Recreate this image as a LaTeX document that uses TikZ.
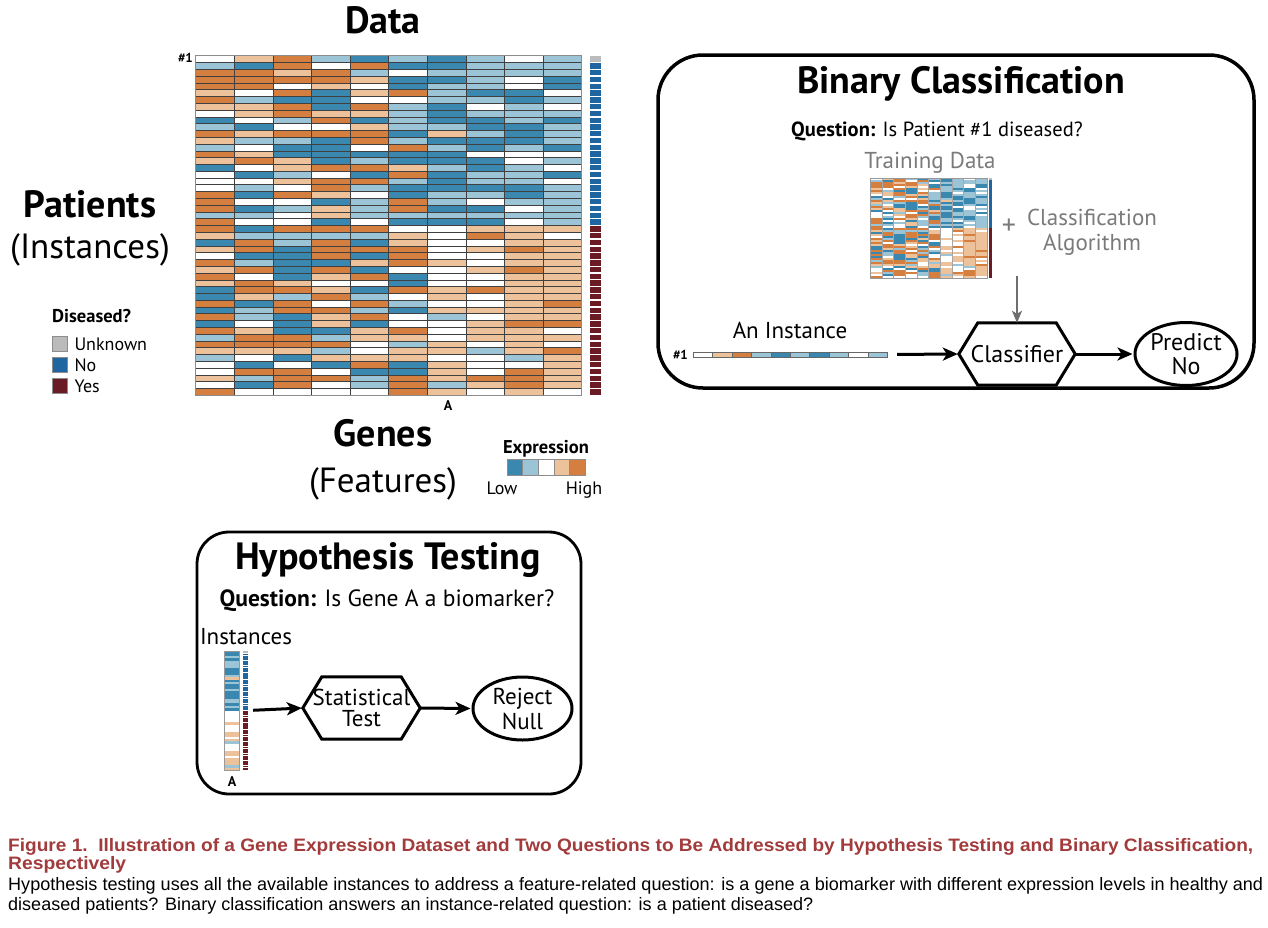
\documentclass[tikz,border=0pt]{standalone}
\usepackage{fontspec}
\setmainfont{PT Sans}
\newfontfamily\capfont{Liberation Sans}
\usepackage{graphicx}
\usetikzlibrary{arrows.meta, positioning, shapes.geometric, calc}

\definecolor{ex1}{HTML}{3A88B0}
\definecolor{ex2}{HTML}{9BC5D6}
\definecolor{ex3}{HTML}{FFFFFF}
\definecolor{ex4}{HTML}{EDC19A}
\definecolor{ex5}{HTML}{D47F40}
\definecolor{dsU}{HTML}{BBBBBB}
\definecolor{dsN}{HTML}{1F66A0}
\definecolor{dsY}{HTML}{6A1B24}
\definecolor{txtgray}{HTML}{7A7A7A}
\definecolor{capred}{HTML}{A23B3C}

% expression level per patient (row) and gene (column): 1 low ... 5 high
\newcommand{\heatdata}{%
{3,4,5,2,1,2,1,2,3,2},{2,1,5,3,5,1,1,2,2,2},{5,5,4,5,2,3,2,2,2,2},{5,5,5,5,4,1,1,2,3,1},
{5,5,3,4,3,1,2,2,3,1},{4,3,5,1,4,5,2,1,1,3},{5,2,1,1,3,3,2,2,1,2},{4,4,5,1,5,2,1,3,2,3},
{3,4,5,4,4,2,1,2,2,2},{1,3,2,5,1,2,1,1,2,1},{2,1,3,3,4,2,2,1,1,2},{5,4,5,5,5,1,4,2,1,2},
{4,2,2,1,5,2,1,1,1,2},{2,3,1,1,3,5,2,1,2,1},{5,4,1,1,1,1,1,3,3,3},{4,5,4,1,2,1,1,1,3,2},
{1,3,4,5,5,4,2,1,2,3},{3,1,2,3,1,5,1,2,2,1},{3,3,4,5,5,2,1,2,2,3},{3,2,3,5,2,1,1,1,1,2},
{5,1,5,4,3,1,2,2,1,2},{5,3,3,1,2,5,2,3,2,2},{5,1,2,4,2,5,1,1,3,2},{2,2,3,4,2,2,2,2,2,2},
{5,3,3,1,3,1,1,1,3,2},{5,1,5,5,5,3,3,4,4,4},{4,2,2,2,2,4,3,5,4,3},{1,5,2,5,1,4,3,3,4,4},
{4,5,1,5,5,5,3,4,5,4},{3,1,1,5,1,5,3,3,4,4},{5,2,1,1,4,5,4,3,4,4},{4,5,1,5,1,3,3,4,5,4},
{5,3,1,4,5,1,3,3,4,4},{4,5,4,3,3,1,3,3,4,4},{1,5,5,4,1,5,4,5,4,4},{1,4,2,5,2,3,4,3,4,4},
{5,1,5,3,5,2,3,3,4,5},{1,2,5,5,2,1,4,4,4,4},{5,2,1,4,5,3,2,3,4,4},{1,3,1,4,1,3,3,4,5,5},
{5,4,1,1,4,5,3,4,4,3},{2,5,5,2,4,4,3,4,4,4},{5,5,5,5,3,2,4,3,4,3},{4,4,4,2,3,4,4,2,4,5},
{2,3,1,4,4,4,3,3,2,4},{3,1,3,1,5,1,4,3,3,4},{3,5,5,3,1,1,4,3,5,4},{4,2,5,5,2,5,4,5,5,4},
{3,1,5,3,2,5,2,4,5,4},{5,3,3,3,3,5,4,3,4,3}}

\begin{document}
\begin{tikzpicture}[x=1pt, y=-1pt,
    cell/.style={draw=black!75, line width=0.5pt},
    minicell/.style={draw=black!60, line width=0.2pt},
    title/.style={font=\fontsize{38}{44}\selectfont\bfseries},
    subtitle/.style={font=\fontsize{35}{40}\selectfont},
    legend/.style={font=\fontsize{18}{20}\selectfont, inner sep=0pt},
    legendb/.style={font=\fontsize{18.5}{20}\selectfont\bfseries, inner sep=0pt},
    label/.style={font=\fontsize{23}{21}\selectfont, align=center},
    grayt/.style={text=txtgray, font=\fontsize{23}{24.5}\selectfont, align=center},
    lgbox/.style={draw=black!45, line width=0.6pt, inner sep=0pt, minimum size=15pt},
    flow/.style={-{Stealth[length=15pt, width=13pt, inset=4pt]}, line width=3pt},
    hexline/.style={line width=3pt, line join=miter},
    panel/.style={draw, line width=3.5pt, rounded corners=45pt}
]
\fill[white] (0,0) rectangle (1268,927);
\useasboundingbox (0,0) rectangle (1268,927);

% ---- data set ----
\node[title, anchor=base] (data) at (383,33) {Data};
\node[font=\fontsize{13}{14}\selectfont\bfseries, anchor=east, inner sep=0pt] (first) at (193,58) {\#1};

% placeholders for the small copies
\node[inner sep=0pt, minimum width=117pt, minimum height=100pt] (train) at (928.5,228) {};
\node[inner sep=0pt, minimum width=194pt, minimum height=5pt] (inst) at (790,354.5) {};
\node[inner sep=0pt, minimum width=24pt, minimum height=119pt] (colA) at (236,710.5) {};

\foreach \row [count=\r] in \heatdata {
  \ifnum\r=1 \def\dc{dsU}\else\ifnum\r<26 \def\dc{dsN}\else\def\dc{dsY}\fi\fi
  % disease status
  \fill[\dc] (590,{55.7+(\r-1)*6.79+0.7}) rectangle ++(11,5.4);
  \fill[\dc] (989,{178+(\r-1)*2+0.3}) rectangle ++(3,1.5);
  \fill[\dc] (243,{651+(\r-1)*2.38+0.3}) rectangle ++(5,1.8);
  \foreach \v [count=\c] in \row {
    \draw[cell, fill=ex\v] ({195.7+(\c-1)*38.6},{55.7+(\r-1)*6.79}) rectangle ++(38.6,6.79);
    \fill[ex\v] ({870+(\c-1)*11.7},{178+(\r-1)*2}) rectangle ++(11.7,2);
    \ifnum\c=7 \fill[ex\v] (224,{651+(\r-1)*2.38}) rectangle ++(15,2.38);\fi
    \ifnum\r=1 \draw[minicell, fill=ex\v] ({693+(\c-1)*19.4},352) rectangle ++(19.4,5);\fi
  }
}
\draw[black!45, line width=1pt] (195.7,55.7) rectangle (581.7,395.2);
\foreach \c in {1,...,9}
  \draw[black!35, line width=0.3pt] ({870+\c*11.7},178) -- ++(0,100);
\draw[black!40, line width=0.5pt] (870,178) rectangle (987,278);
\draw[black!40, line width=0.5pt] (224,651) rectangle (239,770);
\node[font=\fontsize{14}{16}\selectfont\bfseries] (geneA) at (448,406) {A};

\node[title, anchor=base] (patients) at (90,217) {Patients};
\node[subtitle, anchor=base] (instances) at (90,258) {(Instances)};
\node[title, anchor=base] (genes) at (383,446) {Genes};
\node[subtitle, anchor=base] (features) at (383,492) {(Features)};

% disease legend
\node[legendb, anchor=base west] (dis) at (52,322) {Diseased?};
\node[lgbox, fill=dsU] (unk) at (59.5,344) {};
\node[lgbox, fill=dsN] (no) at (59.5,365) {};
\node[lgbox, fill=dsY] (yes) at (59.5,386) {};
\node[legend, right=7pt of unk] {Unknown};
\node[legend, right=7pt of no] {No};
\node[legend, right=7pt of yes] {Yes};

% expression legend
\node[legendb, anchor=base] (expr) at (546,453) {Expression};
\foreach \k in {1,...,5}
  \node[lgbox, fill=ex\k, minimum width=15.6pt, minimum height=16pt] (exp\k) at ({499.2+\k*15.6},467) {};
\node[legend, anchor=base] (low) at (502,494) {Low};
\node[legend, anchor=base] (high) at (584,494) {High};

% ---- binary classification ----
\draw[panel] (658,55) rectangle (1254,388);
\node[title, anchor=base] (bctitle) at (961,93) {Binary Classification};
\node[font=\fontsize{20.5}{24}\selectfont, anchor=base] (bcq) at (937,136) {\textbf{Question:} Is Patient \#1 diseased?};
\node[grayt, anchor=base] (traintxt) at (930,168) {Training Data};
\node[grayt, font=\fontsize{28}{28}\selectfont] (plus) at (1009,227) {+};
\node[grayt, anchor=base] (algo) at (1092,250) {Classification\\Algorithm};
\node[label, anchor=base] (insttxt) at (790,338) {An Instance};
\node[font=\fontsize{13}{14}\selectfont\bfseries, anchor=east, inner sep=0pt] (instno) at (688,354.5) {\#1};

\node[label, font=\fontsize{24}{24}\selectfont, inner sep=0pt, minimum width=116pt, minimum height=62pt] (clf) at (1017,354) {Classifier};
\draw[hexline] (clf.west) -- ($(clf.north west)+(19,0)$) -- ($(clf.north east)+(-19,0)$)
  -- (clf.east) -- ($(clf.south east)+(-19,0)$) -- ($(clf.south west)+(19,0)$) -- cycle;
\node[ellipse, draw, line width=3pt, inner sep=0pt, minimum width=102pt, minimum height=63pt,
  label, font=\fontsize{24}{24}\selectfont] (pred) at (1186,354) {Predict\\No};

\coordinate (feed) at (1017,276);
\draw[-{Stealth[length=12pt, width=10pt, inset=3pt]}, line width=2pt, txtgray!90!black] (feed) -- (clf.north);
\draw[flow, shorten <=10pt, shorten >=1pt] (inst.east) -- (clf.west);
\draw[flow, shorten >=1pt] (clf.east) -- (pred.west);

% ---- hypothesis testing ----
\draw[panel, line width=2.8pt, rounded corners=32pt] (197,532) rectangle (581,794);
\node[title, anchor=base] (httitle) at (388,569) {Hypothesis Testing};
\node[font=\fontsize{23.5}{24}\selectfont, anchor=base] (htq) at (387,606) {\textbf{Question:} Is Gene A a biomarker?};
\node[label, anchor=base] (insts) at (246,644) {Instances};
\node[font=\fontsize{14}{16}\selectfont\bfseries] (stripA) at (232,782) {A};

\node[label, inner sep=0pt, minimum width=117pt, minimum height=62pt] (stat) at (361.5,708) {Statistical\\Test};
\draw[hexline] (stat.west) -- ($(stat.north west)+(19,0)$) -- ($(stat.north east)+(-19,0)$)
  -- (stat.east) -- ($(stat.south east)+(-19,0)$) -- ($(stat.south west)+(19,0)$) -- cycle;
\node[ellipse, draw, line width=3pt, inner sep=0pt, minimum width=99pt, minimum height=63pt,
  label, font=\fontsize{23}{25}\selectfont] (rej) at (522.5,708.5) {Reject\\Null};

\draw[flow, shorten <=5pt, shorten >=1pt] (colA.east) -- (stat.west);
\draw[flow, shorten >=1pt] (stat.east) -- (rej.west);

% ---- caption ----
\node[anchor=base west, inner sep=0pt, text=capred] (cap1) at (8,851)
  {\resizebox{1245pt}{\height}{\capfont\bfseries\fontsize{18}{20}\selectfont Figure 1.\ \ Illustration of a Gene Expression Dataset and Two Questions to Be Addressed by Hypothesis Testing and Binary Classification,}};
\node[anchor=base west, inner sep=0pt, text=capred] (cap2) at (8,869)
  {\resizebox{118pt}{\height}{\capfont\bfseries\fontsize{18}{20}\selectfont Respectively}};
\node[anchor=base west, inner sep=0pt] (cap3) at (8,890)
  {\resizebox{1255pt}{\height}{\capfont\fontsize{18}{20}\selectfont Hypothesis testing uses all the available instances to address a feature-related question: is a gene a biomarker with different expression levels in healthy and}};
\node[anchor=base west, inner sep=0pt] (cap4) at (8,910)
  {\resizebox{805pt}{\height}{\capfont\fontsize{18}{20}\selectfont diseased patients? Binary classification answers an instance-related question: is a patient diseased?}};
\end{tikzpicture}
\end{document}
